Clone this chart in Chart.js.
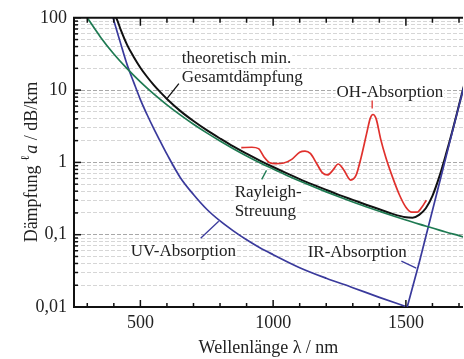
<!DOCTYPE html>
<html><head><meta charset="utf-8">
<script src="https://cdn.jsdelivr.net/npm/chart.js@4/dist/chart.umd.min.js"></script>
<style>html,body{margin:0;padding:0;background:#fff}#wrap{width:464px;height:359px}</style>
</head><body><div id="wrap"><canvas id="c" width="464" height="359"></canvas></div>
<script>
// ---- data (wavelength in nm, attenuation in dB/km) ----
const rayleighWl  = [300,350,400,450,500,550,600,650,700,750,800,850,900,950,1000,1050,1100,1150,1200,1250,1300,1350,1400,1450,1500,1550,1600,1650,1700,1750];
const rayleighVal = [100,54,31.6,19.8,13.0,8.85,6.25,4.54,3.37,2.56,1.98,1.55,1.23,0.99,0.81,0.666,0.553,0.463,0.391,0.332,0.284,0.244,0.211,0.183,0.160,0.140,0.124,0.109,0.097,0.086];

const uvWl  = [397,410,425,450,475,500,525,550,575,600,650,700,750,800,850,900,950,1000,1100,1200,1300,1400,1505];
const uvVal = [100,69,45,22.5,12.8,7.4,4.6,2.95,1.95,1.3,0.62,0.36,0.225,0.155,0.113,0.085,0.066,0.053,0.035,0.025,0.0185,0.0136,0.01];

const irWl  = [1505,1550,1600,1650,1700,1750];
const irVal = [0.01,0.041,0.216,1.15,6.1,32];

const totalWl  = [407,410,425,450,475,500,525,550,575,600,650,700,750,800,850,900,950,1000,1050,1100,1150,1200,1250,1300,1350,1400,1450,1500,1525,1550,1575,1600,1625,1650,1675,1700,1725,1750];
const totalVal = [100,98,69.8,42.3,28.7,20.4,15.3,11.8,9.36,7.55,5.16,3.73,2.79,2.14,1.66,1.32,1.06,0.863,0.709,0.588,0.493,0.416,0.353,0.303,0.260,0.225,0.194,0.174,0.172,0.188,0.232,0.345,0.62,1.26,2.72,6.2,14.1,32];

const ohWl  = [880,920,945,965,985,1010,1040,1070,1100,1120,1140,1165,1185,1205,1225,1245,1265,1292,1312,1332,1352,1366,1376,1388,1405,1425,1450,1475,1500,1522,1542,1560,1577];
const ohVal = [1.6,1.62,1.55,1.2,1.0,0.96,0.98,1.1,1.38,1.43,1.33,0.95,0.72,0.67,0.78,0.95,0.8,0.57,0.66,1.2,2.5,4.1,4.6,4.0,2.1,1.15,0.62,0.36,0.24,0.205,0.205,0.24,0.30];

const xTickValues = [300,400,500,600,700,800,900,1000,1100,1200,1300,1400,1500,1600,1700];
const xLabelValues = [500,1000,1500];
const yLabelValues = [0.01,0.1,1,10,100];
const yLabelTexts  = ['0,01','0,1','1','10','100'];

// ---- annotations (data coordinates) ----
const texts = [
  {t:'theoretisch min.', x:656, y:23.6},
  {t:'Gesamtdämpfung',   x:656, y:12.9},
  {t:'OH-Absorption',    x:1239, y:7.96},
  {t:'Rayleigh-',        x:855, y:0.329},
  {t:'Streuung',         x:855, y:0.183},
  {t:'UV-Absorption',    x:464, y:0.0513},
  {t:'IR-Absorption',    x:1130, y:0.049}
];
const leaders = [
  {x1:645, y1:12.3, x2:600, y2:7.6, c:'#111'},
  {x1:1373, y1:7.16, x2:1373, y2:5.56, c:'#e0312d'},
  {x1:975, y1:0.776, x2:957, y2:0.583, c:'#1e7a52'},
  {x1:795, y1:0.153, x2:727, y2:0.0895, c:'#3a3a9c'},
  {x1:1483, y1:0.043, x2:1539, y2:0.0345, c:'#3a3a9c'}
];

const SERIF = '"Liberation Serif", "DejaVu Serif", serif';
const pts = (xs, ys) => xs.map((v, i) => ({x: v, y: ys[i]}));

const yTickList = [];
for (let e = -2; e <= 1; e++) for (let m = 1; m <= 9; m++) yTickList.push(+(m * Math.pow(10, e)).toPrecision(3));
yTickList.push(100);
const isMajorY = v => yLabelValues.some(m => Math.abs(m - v) / m < 1e-6);

const frame = {
  id: 'frame',
  beforeDatasetsDraw(chart) {
    const {ctx, scales: {x, y}} = chart;
    ctx.save();
    ctx.font = '17px ' + SERIF;
    ctx.textBaseline = 'alphabetic';
    texts.forEach(a => {
      const px = x.getPixelForValue(a.x), py = y.getPixelForValue(a.y);
      const w = ctx.measureText(a.t).width;
      ctx.fillStyle = '#fff';
      ctx.fillRect(px - 1, py - 13, w + 2, 17);
      ctx.fillStyle = '#222';
      ctx.fillText(a.t, px, py);
    });
    leaders.forEach(l => {
      ctx.strokeStyle = l.c; ctx.lineWidth = 1.3;
      ctx.beginPath();
      ctx.moveTo(x.getPixelForValue(l.x1), y.getPixelForValue(l.y1));
      ctx.lineTo(x.getPixelForValue(l.x2), y.getPixelForValue(l.y2));
      ctx.stroke();
    });
    ctx.restore();
  },
  afterDraw(chart) {
    const {ctx, chartArea: a, scales: {x, y}} = chart;
    ctx.save();
    ctx.strokeStyle = '#111';
    ctx.lineWidth = 2;
    ctx.beginPath(); ctx.moveTo(a.left - 1, a.top); ctx.lineTo(a.right, a.top); ctx.stroke();
    ctx.lineWidth = 1.5;
    xTickValues.forEach(v => {
      const px = x.getPixelForValue(v);
      const major = xLabelValues.includes(v);
      ctx.beginPath();
      ctx.moveTo(px, a.bottom); ctx.lineTo(px, a.bottom - (major ? 7 : 4));
      ctx.moveTo(px, a.top); ctx.lineTo(px, a.top + (major ? 8 : 5));
      ctx.stroke();
    });
    yTickList.forEach(v => {
      const py = y.getPixelForValue(v);
      const major = isMajorY(v);
      ctx.beginPath();
      ctx.moveTo(a.left, py); ctx.lineTo(a.left + (major ? 7 : 4), py);
      ctx.stroke();
    });
    // y-axis title
    ctx.translate(37, 162);
    ctx.rotate(-Math.PI / 2);
    ctx.fillStyle = '#222';
    ctx.textBaseline = 'alphabetic';
    const parts = [
      {t: 'Dämpfung ', f: '18px ' + SERIF, dy: 0},
      {t: 'ℓ', f: '12px ' + SERIF, dy: -8},
      {t: ' ', f: '6px ' + SERIF, dy: 0},
      {t: 'a', f: 'italic 18px ' + SERIF, dy: 0},
      {t: ' / dB/km', f: '18px ' + SERIF, dy: 0}
    ];
    let total = 0;
    parts.forEach(p => { ctx.font = p.f; p.w = ctx.measureText(p.t).width; total += p.w; });
    let cx = -total / 2;
    parts.forEach(p => { ctx.font = p.f; ctx.fillText(p.t, cx, p.dy); cx += p.w; });
    ctx.restore();
  }
};

new Chart(document.getElementById('c'), {
  type: 'line',
  data: {
    datasets: [
      {label: 'Rayleigh', data: pts(rayleighWl, rayleighVal), borderColor: '#1e7a52', borderWidth: 1.7},
      {label: 'UV', data: pts(uvWl, uvVal), borderColor: '#3a3a9c', borderWidth: 1.7},
      {label: 'IR', data: pts(irWl, irVal), borderColor: '#3a3a9c', borderWidth: 1.7, cubicInterpolationMode: 'default', tension: 0},
      {label: 'Gesamt', data: pts(totalWl, totalVal), borderColor: '#111', borderWidth: 2},
      {label: 'OH', data: pts(ohWl, ohVal), borderColor: '#e0312d', borderWidth: 1.7}
    ]
  },
  options: {
    responsive: false,
    animation: false,
    devicePixelRatio: 1,
    layout: {padding: {top: 17, left: 0, right: 0, bottom: 0}},
    plugins: {legend: {display: false}, tooltip: {enabled: false}},
    elements: {point: {radius: 0}, line: {cubicInterpolationMode: 'monotone', fill: false}},
    scales: {
      x: {
        type: 'linear', min: 250, max: 1715,
        afterBuildTicks: s => { s.ticks = xTickValues.map(v => ({value: v})); },
        afterFit: s => { s.height = 52; },
        grid: {display: false, drawTicks: false},
        border: {display: true, color: '#111', width: 2},
        ticks: {autoSkip: false, maxRotation: 0, padding: 5, color: '#222', font: {family: SERIF, size: 18},
          callback: v => xLabelValues.includes(v) ? String(v) : ''},
        title: {display: true, text: 'Wellenlänge λ / nm', color: '#222', font: {family: SERIF, size: 18}, padding: {top: 0, bottom: 0}}
      },
      y: {
        type: 'logarithmic', min: 0.01, max: 100,
        afterBuildTicks: s => { s.ticks = yTickList.map(v => ({value: v, major: isMajorY(v)})); },
        afterFit: s => { s.width = 74; },
        grid: {drawTicks: false, lineWidth: 1,
          color: c => (c.tick && isMajorY(c.tick.value)) ? '#a8a8a8' : '#d6d6d6'},
        border: {display: true, color: '#111', width: 2, dash: [4, 2]},
        ticks: {autoSkip: false, padding: 7, color: '#222', font: {family: SERIF, size: 18},
          callback: v => { const i = yLabelValues.findIndex(m => Math.abs(m - v) / m < 1e-6); return i >= 0 ? yLabelTexts[i] : ''; }}
      }
    }
  },
  plugins: [frame]
});
</script>
</body></html>
